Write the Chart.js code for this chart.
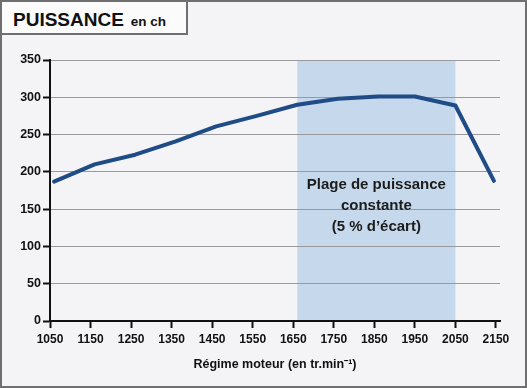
<!DOCTYPE html>
<html>
<head>
<meta charset="utf-8">
<script src="https://cdn.jsdelivr.net/npm/chart.js@4"></script>
<style>
    html, body { margin: 0; padding: 0; }
    body { width: 527px; height: 388px; position: relative; background: #f4f3f6; overflow: hidden; }
    #frame { position: absolute; left: 0; top: 0; width: 523px; height: 384px; border: 2px solid #6f6f72; pointer-events: none; }
    #titleBox {
        position: absolute; left: 0; top: 0; width: 184px; height: 31px;
        border: 2px solid #6f6f72; background: #fbfbfc;
        font-family: "Liberation Sans", Arial, sans-serif; font-weight: bold; color: #111;
    }
    #titleBox .big { position: absolute; left: 11px; top: 8px; font-size: 19px; line-height: 20px; white-space: nowrap; }
    #titleBox .small { font-size: 13.5px; margin-left: 7px; }
    #wrap { position: absolute; left: 0; top: 0; width: 527px; height: 388px; }
</style>
</head>
<body>
<div id="wrap"><canvas id="powerChart" width="527" height="388"></canvas></div>
<div id="titleBox"><div class="big">PUISSANCE<span class="small">en ch</span></div></div>
<div id="frame"></div>
<script>
// régime (tr/min) et puissance (ch)
const rpm = [1060, 1160, 1260, 1360, 1460, 1560, 1660, 1760, 1860, 1950, 2050, 2145];
const power = [187, 210, 223, 241, 261, 275, 290, 298, 301, 301, 289, 188];
const xTicks = [1050, 1150, 1250, 1350, 1450, 1550, 1650, 1750, 1850, 1950, 2050, 2150];
const yTicks = [0, 50, 100, 150, 200, 250, 300, 350];
const bandRange = [1660, 2050];
const bandLines = ["Plage de puissance", "constante", "(5 % d\u2019écart)"];

const FONT = '"Liberation Sans", Arial, sans-serif';

// bande bleue derrière la grille + texte
const bandPlugin = {
    id: 'band',
    beforeDraw(chart) {
        const { ctx, chartArea, scales } = chart;
        const x1 = scales.x.getPixelForValue(bandRange[0]);
        const x2 = scales.x.getPixelForValue(bandRange[1]);
        ctx.save();
        ctx.fillStyle = '#c6d8eb';
        ctx.fillRect(x1, chartArea.top, x2 - x1, chartArea.bottom - chartArea.top);
        ctx.restore();
    },
    afterDatasetsDraw(chart) {
        const { ctx, scales } = chart;
        const cx = (scales.x.getPixelForValue(bandRange[0]) + scales.x.getPixelForValue(bandRange[1])) / 2;
        ctx.save();
        ctx.fillStyle = '#1c1c1c';
        ctx.font = 'bold 15px ' + FONT;
        ctx.textAlign = 'center';
        ctx.textBaseline = 'middle';
        bandLines.forEach((line, i) => ctx.fillText(line, cx, 185 + i * 21));
        ctx.restore();
    }
};

new Chart(document.getElementById('powerChart'), {
    type: 'line',
    data: {
        datasets: [{
            data: rpm.map((r, i) => ({ x: r, y: power[i] })),
            borderColor: '#1f4c86',
            borderWidth: 4,
            pointRadius: 0,
            tension: 0,
            borderCapStyle: 'round',
            borderJoinStyle: 'round'
        }]
    },
    options: {
        responsive: false,
        animation: false,
        layout: { padding: { left: 0, right: 27, top: 60, bottom: 0 } },
        plugins: { legend: { display: false }, tooltip: { enabled: false } },
        scales: {
            x: {
                type: 'linear',
                min: 1050,
                max: 2160,
                afterBuildTicks: s => { s.ticks = xTicks.map(v => ({ value: v })); },
                afterFit: s => { s.height = 67; },
                grid: { drawOnChartArea: false, drawTicks: true, tickLength: 7, tickColor: '#111', tickWidth: 2 },
                border: { color: '#111', width: 2 },
                ticks: {
                    padding: 4,
                    color: '#111',
                    maxRotation: 0,
                    autoSkip: false,
                    callback: v => String(v),
                    font: { family: '"Liberation Sans Narrow", "Liberation Sans", Arial, sans-serif', weight: 'bold', size: 12 }
                },
                title: {
                    display: true,
                    text: 'Régime moteur (en tr.min\u207B\u00B9)',
                    color: '#111',
                    font: { family: FONT, weight: 'bold', size: 12.5 },
                    padding: { top: 0, bottom: 16 }
                }
            },
            y: {
                min: 0,
                max: 350,
                afterBuildTicks: s => { s.ticks = yTicks.map(v => ({ value: v })); },
                afterFit: s => { s.width = 50; },
                grid: { color: '#9a9a9e', lineWidth: 1, drawTicks: true, tickLength: 7, tickColor: '#111', tickWidth: 2 },
                border: { color: '#111', width: 2 },
                ticks: {
                    padding: 2,
                    color: '#111',
                    font: { family: FONT, weight: 'bold', size: 12.5 }
                }
            }
        }
    },
    plugins: [bandPlugin]
});
</script>
</body>
</html>
